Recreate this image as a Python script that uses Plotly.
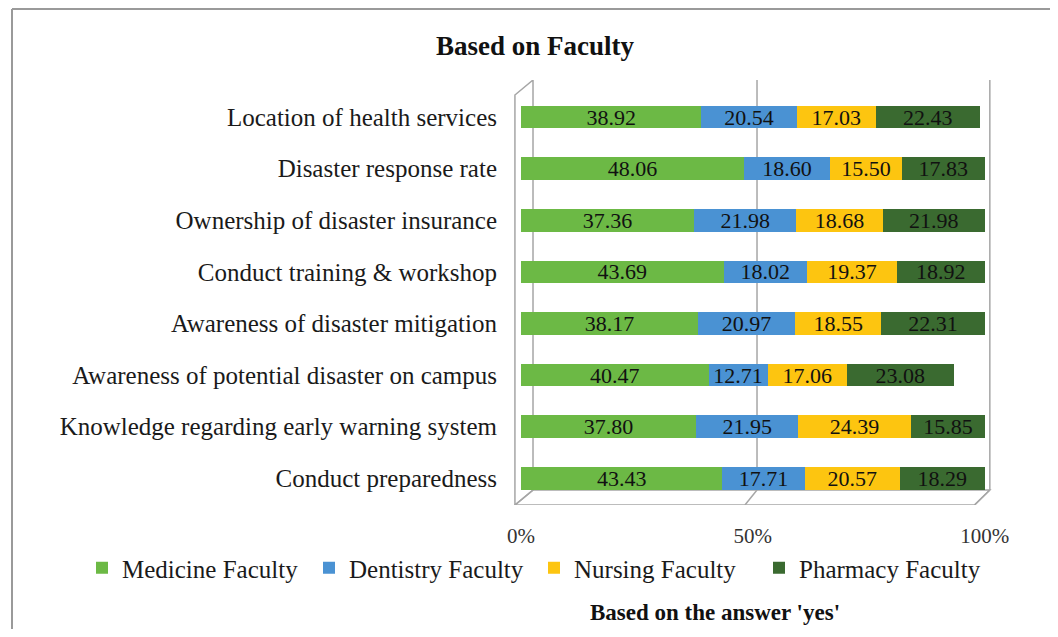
import plotly.graph_objects as go

categories = [
    "Location of health services",
    "Disaster response rate",
    "Ownership of disaster insurance",
    "Conduct training & workshop",
    "Awareness of disaster mitigation",
    "Awareness of potential disaster on campus",
    "Knowledge regarding early warning system",
    "Conduct preparedness",
]
medicine = [38.92, 48.06, 37.36, 43.69, 38.17, 40.47, 37.80, 43.43]
dentistry = [20.54, 18.60, 21.98, 18.02, 20.97, 12.71, 21.95, 17.71]
nursing = [17.03, 15.50, 18.68, 19.37, 18.55, 17.06, 24.39, 20.57]
pharmacy = [22.43, 17.83, 21.98, 18.92, 22.31, 23.08, 15.85, 18.29]

series = [
    ("Medicine Faculty", medicine, "#6cb945"),
    ("Dentistry Faculty", dentistry, "#4a92d3"),
    ("Nursing Faculty", nursing, "#fdc510"),
    ("Pharmacy Faculty", pharmacy, "#3a6a30"),
]

FONT = "Liberation Serif, Times New Roman, serif"
W, H = 1042, 621
L, R, T, B = 506, 986, 72, 497
legend_ids = ["legend", "legend2", "legend3", "legend4"]
legend_x = [74, 301, 526, 751]

fig = go.Figure()
for (name, vals, col), lid in zip(series, legend_ids):
    fig.add_trace(go.Bar(
        y=categories, x=vals, name=name, orientation="h",
        marker=dict(color=col, line=dict(width=0)),
        width=0.44,
        text=vals, texttemplate="%{x:.2f}", textposition="inside",
        insidetextanchor="middle", constraintext="none",
        textfont=dict(family=FONT, size=22, color="#111111"),
        hoverinfo="x+y+name", legend=lid,
    ))

xr = [-1.5, 102]
yr = [7.52, -0.72]
fc = "#a6a6a6"
shapes = []
# 3D-ish frame: left wall, floor, back grid lines
shapes.append(dict(type="path", xref="x", yref="y",
                   path="M -1.3,-0.43 L 2.6,-0.72 L 2.6,7.23 L -1.3,7.52 Z",
                   line=dict(color=fc, width=1.5), layer="below"))
shapes.append(dict(type="path", xref="x", yref="y",
                   path="M -1.3,7.52 L 2.6,7.23 L 101.1,7.23 L 97.8,7.52 Z",
                   line=dict(color=fc, width=1.5), layer="below"))
for xb, xf in [(50.9, 48.3), (101.1, 97.8)]:
    shapes.append(dict(type="line", xref="x", yref="y", x0=xb, x1=xb, y0=-0.82, y1=7.23,
                       line=dict(color=fc, width=1.5), layer="below"))
    shapes.append(dict(type="line", xref="x", yref="y", x0=xb, x1=xf, y0=7.23, y1=7.52,
                       line=dict(color=fc, width=1.5), layer="below"))


def pxx(p):
    return (p - L) / (R - L)


def pxy(p):
    return (B - p) / (B - T)


# outer chart border (top and left edges visible)
shapes.append(dict(type="line", xref="paper", yref="paper",
                   x0=pxx(4), x1=pxx(1100), y0=pxy(1), y1=pxy(1),
                   line=dict(color="#9a9a9a", width=2), layer="below"))
shapes.append(dict(type="line", xref="paper", yref="paper",
                   x0=pxx(4), x1=pxx(4), y0=pxy(1), y1=pxy(700),
                   line=dict(color="#9a9a9a", width=2), layer="below"))

legends = {}
for lid, lx in zip(legend_ids, legend_x):
    legends[lid] = dict(orientation="h", xref="container", yref="container",
                        x=lx / W, xanchor="left", y=1 - 560 / H, yanchor="middle",
                        bgcolor="rgba(0,0,0,0)",
                        font=dict(family=FONT, size=25, color="#1a1a1a"))

fig.update_layout(
    width=W, height=H,
    margin=dict(l=L, r=W - R, t=T, b=H - B, autoexpand=False),
    barmode="stack",
    plot_bgcolor="white", paper_bgcolor="white",
    font=dict(family=FONT, size=21, color="#262626"),
    title=dict(text="<b>Based on Faculty</b>", x=527 / W, xref="container", xanchor="center",
               y=1 - 38 / H, yref="container", yanchor="middle",
               font=dict(family=FONT, size=27, color="#111111")),
    xaxis=dict(range=xr, tickvals=[0, 50, 100], ticktext=["0%", "50%", "100%"],
               showgrid=False, zeroline=False, showline=False,
               ticks="outside", ticklen=12, tickcolor="rgba(0,0,0,0)",
               tickfont=dict(family=FONT, size=21, color="#333333")),
    yaxis=dict(range=yr, showgrid=False, zeroline=False, showline=False,
               ticks="", ticklabelstandoff=16,
               tickfont=dict(family=FONT, size=25, color="#1a1a1a")),
    shapes=shapes,
    annotations=[dict(text="<b>Based on the answer 'yes'</b>", xref="paper", yref="paper",
                      x=pxx(707), y=pxy(604), xanchor="center", yanchor="middle",
                      showarrow=False,
                      font=dict(family=FONT, size=23, color="#111111"))],
    showlegend=True,
    **legends,
)

fig.write_html("out.html")
